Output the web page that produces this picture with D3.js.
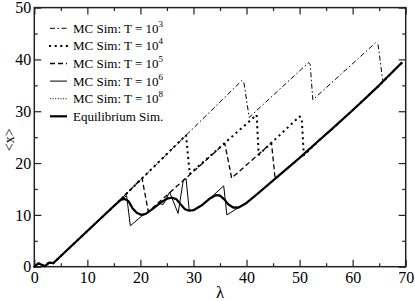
<!DOCTYPE html>
<html>
<head>
<meta charset="utf-8">
<script src="https://cdn.jsdelivr.net/npm/d3@7"></script>
<style>
  body { margin: 0; background: #fff; }
  text { font-family: serif; }
</style>
</head>
<body>
<div id="chart"></div>
<script>
// --- data: [lambda, <x>] ---
const equilibrium = [
  [0, 0], [0.75, 0.65], [2, 0.1], [2.8, 0.8], [3.6, 0.7], [10, 6.9], [15, 11.7],
  [16.3, 12.9], [17, 13.1], [17.8, 12.6], [18.5, 11.3], [19.3, 10.4], [20.2, 10.0],
  [21, 10.2], [22.5, 11.3], [24, 12.5], [25.2, 13.2], [26, 13.3], [26.8, 13.0],
  [27.6, 12.0], [28.4, 11.1], [29.2, 10.8], [30, 10.9], [31.5, 11.8], [33, 13.1],
  [34.2, 13.8], [35, 13.7], [35.8, 13.0], [36.6, 12.0], [37.5, 11.4], [38.5, 11.4],
  [40, 12.3], [42, 14.0], [45.3, 16.9], [50, 21.0], [53.8, 24.5], [55.7, 26.2],
  [60, 30.2], [65, 35.0], [69.3, 39.4]
];
const mc1e3 = [
  [0, 0], [0.75, 0.65], [2, 0.1], [2.8, 0.8], [3.6, 0.7], [10, 6.9], [15, 11.7],
  [16.3, 13.0], [39.1, 35.9], [39.5, 35.6], [40.5, 28.8], [51.7, 39.4], [52.0, 39.0],
  [52.5, 32.2], [64.3, 43.2], [64.8, 42.8], [65.7, 35.7], [69.3, 39.4]
];
const mc1e4 = [
  [0, 0], [0.75, 0.65], [2, 0.1], [2.8, 0.8], [3.6, 0.7], [10, 6.9], [15, 11.7],
  [16.3, 13.0], [28.6, 25.4], [29.3, 17.9], [41.9, 29.3], [42.3, 21.6], [50.0, 29.0],
  [50.4, 28.6], [50.8, 21.5], [53.8, 24.5], [55.7, 26.2], [60, 30.2], [65, 35.0], [69.3, 39.4]
];
const mc1e5 = [
  [0, 0], [0.75, 0.65], [2, 0.1], [2.8, 0.8], [3.6, 0.7], [10, 6.9], [15, 11.7],
  [16.3, 13.0], [20.3, 17.1], [21.5, 10.6], [35.9, 23.8], [37.2, 17.1], [44.7, 23.9],
  [45.4, 16.9], [50, 21.0], [53.8, 24.5], [55.7, 26.2], [60, 30.2], [65, 35.0], [69.3, 39.4]
];
const mc1e6 = [
  [0, 0], [0.75, 0.65], [2, 0.1], [2.8, 0.8], [3.6, 0.7], [10, 6.9], [15, 11.7],
  [16.3, 12.95], [17.4, 13.7], [18.1, 7.9], [20.4, 9.9], [21, 10.2], [22.5, 11.3],
  [23.6, 12.2], [24.3, 12.0], [25.5, 14.4], [27.1, 10.3], [28.1, 16.8], [28.6, 17.0],
  [29.2, 10.9], [30, 10.9], [31.5, 11.8], [33, 13.1], [35.7, 15.6], [36.3, 10.0],
  [38.8, 11.6], [40, 12.3], [42, 14.0], [45.3, 16.9], [50, 21.0], [53.8, 24.5],
  [55.7, 26.2], [60, 30.2], [65, 35.0], [69.3, 39.4]
];
const mc1e8 = [
  [0, 0], [0.75, 0.65], [2, 0.1], [2.8, 0.8], [3.6, 0.7], [10, 6.9], [15, 11.7],
  [16.3, 12.95], [17, 13.2], [17.8, 12.7], [18.5, 11.4], [19.3, 10.4], [20.2, 10.0],
  [21, 10.2], [22.5, 11.3], [24, 12.5], [25.2, 13.3], [26, 13.4], [26.8, 13.0],
  [27.6, 12.0], [28.4, 11.1], [29.2, 10.8], [30, 10.9], [31.5, 11.8], [33, 13.1],
  [34.2, 13.9], [35, 13.8], [35.8, 13.1], [36.6, 12.1], [37.5, 11.6], [38.5, 11.6],
  [40, 12.3], [42, 14.0], [45.3, 16.9], [50, 21.0], [53.8, 24.5], [55.7, 26.2],
  [60, 30.2], [65, 35.0], [69.3, 39.4]
];

const xMajor = [0, 10, 20, 30, 40, 50, 60, 70];
const xMinor = [5, 15, 25, 35, 45, 55, 65];
const yMajor = [0, 10, 20, 30, 40, 50];
const yMinor = [5, 15, 25, 35, 45];

const legendLabels = [
  { text: "MC Sim: T = 10", sup: "3" },
  { text: "MC Sim: T = 10", sup: "4" },
  { text: "MC Sim: T = 10", sup: "5" },
  { text: "MC Sim: T = 10", sup: "6" },
  { text: "MC Sim: T = 10", sup: "8" },
  { text: "Equilibrium Sim.", sup: "" }
];

// --- line styles (same order as legend) ---
const styles = [
  { data: mc1e3, width: 1, dash: "5,2.5,1.5,2.5", cap: "butt" },
  { data: mc1e4, width: 2, dash: "0.1,5.5", cap: "square" },
  { data: mc1e5, width: 1.3, dash: "5,3", cap: "butt" },
  { data: mc1e6, width: 1, dash: null, cap: "butt" },
  { data: mc1e8, width: 1, dash: "1,1.6", cap: "butt" },
  { data: equilibrium, width: 2.2, dash: null, cap: "butt" }
];

const W = 415, H = 301;
const margin = { left: 34.3, right: 9.3, top: 7.6, bottom: 34.3 };

const svg = d3.select("#chart").append("svg")
  .attr("width", W)
  .attr("height", H);

const x = d3.scaleLinear().domain([0, 70]).range([margin.left, W - margin.right]);
const y = d3.scaleLinear().domain([0, 50]).range([H - margin.bottom, margin.top]);

// --- axes (ticks point inward, like the original) ---
function tickGroup(axis, transform) {
  const g = svg.append("g").attr("transform", transform).call(axis);
  g.attr("font-family", null);
  g.select(".domain").remove();
  g.selectAll(".tick line").attr("stroke", "#222").attr("stroke-width", 1.2);
  return g;
}

const bottom = tickGroup(
  d3.axisBottom(x).tickValues(xMajor).tickSize(-7).tickPadding(5).tickFormat(d3.format("d")),
  `translate(0,${y(0)})`
);
bottom.attr("font-size", 16);
bottom.selectAll("text").attr("fill", "#000");
tickGroup(d3.axisBottom(x).tickValues(xMinor).tickSize(-3.5).tickFormat(""), `translate(0,${y(0)})`);
tickGroup(d3.axisTop(x).tickValues(xMajor).tickSize(-7).tickFormat(""), `translate(0,${y(50)})`);
tickGroup(d3.axisTop(x).tickValues(xMinor).tickSize(-3.5).tickFormat(""), `translate(0,${y(50)})`);

const left = tickGroup(
  d3.axisLeft(y).tickValues(yMajor).tickSize(-7).tickPadding(3).tickFormat(d3.format("d")),
  `translate(${x(0)},0)`
);
left.attr("font-size", 16);
left.selectAll("text").attr("fill", "#000");
tickGroup(d3.axisLeft(y).tickValues(yMinor).tickSize(-3.5).tickFormat(""), `translate(${x(0)},0)`);
tickGroup(d3.axisRight(y).tickValues(yMajor).tickSize(-7).tickFormat(""), `translate(${x(70)},0)`);
tickGroup(d3.axisRight(y).tickValues(yMinor).tickSize(-3.5).tickFormat(""), `translate(${x(70)},0)`);

// frame
svg.append("rect")
  .attr("x", x(0)).attr("y", y(50))
  .attr("width", x(70) - x(0)).attr("height", y(0) - y(50))
  .attr("fill", "none").attr("stroke", "#222").attr("stroke-width", 1.5);

// --- series ---
const line = d3.line().x(d => x(d[0])).y(d => y(d[1]));

svg.append("g").selectAll("path")
  .data(styles)
  .join("path")
  .attr("d", d => line(d.data))
  .attr("fill", "none")
  .attr("stroke", "#000")
  .attr("stroke-width", d => d.width)
  .attr("stroke-dasharray", d => d.dash)
  .attr("stroke-linecap", d => d.cap)
  .attr("stroke-linejoin", "round");

// --- legend ---
const legend = svg.append("g");
const rowY = i => 28.3 + i * 17.6;

legend.selectAll("line")
  .data(styles)
  .join("line")
  .attr("x1", 50).attr("x2", 67)
  .attr("y1", (d, i) => rowY(i)).attr("y2", (d, i) => rowY(i))
  .attr("stroke", "#000")
  .attr("stroke-width", d => d.width)
  .attr("stroke-dasharray", d => d.dash)
  .attr("stroke-linecap", d => d.cap);

const labels = legend.selectAll("text")
  .data(legendLabels)
  .join("text")
  .attr("x", 73)
  .attr("y", (d, i) => rowY(i) + 4.5)
  .attr("font-size", 13)
  .attr("fill", "#000");
labels.append("tspan").text(d => d.text);
labels.append("tspan")
  .attr("font-size", 9)
  .attr("dy", -6)
  .text(d => d.sup);

// --- axis titles ---
svg.append("text")
  .attr("x", x(35)).attr("y", 298)
  .attr("text-anchor", "middle")
  .attr("font-size", 17)
  .text("λ");

svg.append("text")
  .attr("transform", `translate(14,${y(24.5)}) rotate(-90)`)
  .attr("text-anchor", "middle")
  .attr("font-size", 14)
  .text("<x>");
</script>
</body>
</html>
